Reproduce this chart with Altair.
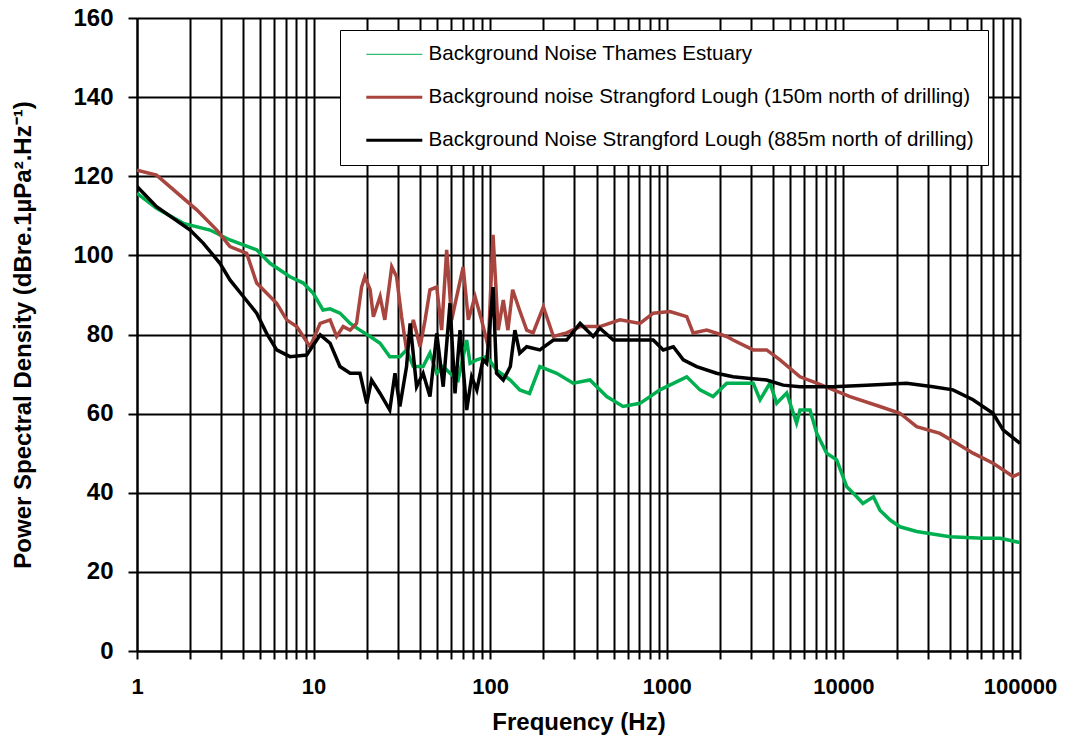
import altair as alt
import pandas as pd

# Series labels and colours
series_names = [
    "Background Noise Thames Estuary",
    "Background noise Strangford Lough (150m north of drilling)",
    "Background Noise Strangford Lough (885m north of drilling)",
]
series_colors = ["#00B050", "#A8453F", "#000000"]

# Thames Estuary spectrum (Hz, dB re 1 uPa^2/Hz)
thames_freq = [1, 1.29, 1.83, 2.59, 3.36, 4.76, 5.66, 7.35, 8.74, 9.96, 11.3, 12.4,
               14.1, 16.1, 18.3, 20.9, 23.8, 27, 30.8, 33.6, 36.7, 41.7, 45.6, 49.8,
               54.2, 59.2, 65.8, 73.6, 76.9, 84, 95.5, 108.6, 130, 147, 167, 191, 238,
               295, 367, 457, 565, 705, 915, 1297, 1541, 1828, 2183, 2710, 3085, 3373,
               3838, 4190, 4775, 5430, 5678, 6470, 7063, 8040, 9160, 10450, 11900,
               12900, 14800, 16100, 18400, 20900, 26000, 40100, 61700, 77100, 100000]
thames_psd = [115.7, 111.9, 108.1, 106.4, 103.9, 101.4, 98, 94.6, 93, 90.4, 86.2, 86.5,
              85.4, 82.8, 81.1, 79.5, 77.8, 74.4, 74.4, 76.1, 71.9, 71.9, 75.3, 70.2,
              71.9, 70.2, 68.5, 78.6, 72.7, 73.6, 74.4, 71, 68.5, 66, 65.1, 71.9, 70.2,
              67.7, 68.5, 64.3, 61.8, 62.6, 66, 69.3, 66, 64.3, 67.7, 67.7, 67.7, 63.5,
              67.7, 62.6, 65.2, 57.6, 60.9, 60.9, 55, 50, 48.3, 41.5, 39,
              37.3, 39, 35.6, 33.1, 31.4, 30.2, 28.9, 28.5, 28.5, 27.4]

# Strangford Lough, 150 m north of drilling
lough150_freq = [1, 1.29, 2.18, 2.83, 3.36, 4.18, 4.76, 6.18, 7.04, 8.02, 9.55, 10.9,
                 12.4, 13.5, 14.7, 16.1, 17.5, 18.7, 19.5, 20.9, 21.8, 23.8, 25.3, 27.7,
                 29.5, 31.5, 33.6, 36.7, 40.1, 42.8, 45.6, 49.8, 53.1, 56.7, 60.5, 64.6,
                 70.3, 75.2, 82, 89.3, 97.5, 103.8, 111, 118.6, 126, 134, 147, 161, 175,
                 200, 228, 271, 323, 418, 543, 705, 838, 1042, 1297, 1409, 1683, 2183,
                 2371, 3085, 3676, 4375, 5678, 7063, 10900, 16100, 20900, 26000, 35200,
                 43800, 54200, 70800, 91300, 100000]
lough150_psd = [121.5, 120.3, 111.5, 106.4, 102.2, 100.5, 93, 87.9, 83.7, 82, 76.9, 82.8,
                83.7, 79.5, 82, 81.1, 82.8, 92, 94.6, 91.3, 84.5, 89.6, 83.7, 97.1,
                94.6, 84.5, 76.1, 83.7, 76.9, 83.7, 91.3, 92, 81.1, 101.4, 83.7, 89.6,
                97.1, 83.7, 89.6, 83.7, 76.9, 105.2, 81.1, 88.7, 81.1, 91.3, 86, 81.1, 80.4,
                87, 79.5, 80.4, 82, 82, 83.7, 82.8, 85.4, 85.8, 84.5, 80.4, 81.1, 79.5,
                78.6, 76.1, 76.1, 73.6, 69.3, 67.7, 64.3, 61.8, 60.1, 56.7, 55,
                52.5, 50, 47.4, 44.1, 44.9]

# Strangford Lough, 885 m north of drilling
lough885_freq = [1, 1.29, 2, 2.37, 2.95, 3.36, 4, 4.76, 5.42, 6.18, 7.35, 9.14,
                 10.9, 12.4, 14.1, 16.1, 18.3, 20, 21.3, 23.8, 27, 28.9, 30.8, 33.6,
                 35.2, 38.3, 41.7, 45.6, 49.8, 54.2, 59.2, 63.2, 67.5, 73.6, 78.5, 84,
                 91, 95.5, 103.8, 108.6, 118.6, 130, 138, 147, 161, 191, 228, 271, 323,
                 383, 418, 498, 646, 838, 955, 1089, 1240, 1476, 1914, 2371, 2960, 3676,
                 4560, 5678, 8730, 13550, 22800, 32200, 41700, 54200, 70300, 80200, 100000]
lough885_psd = [117.4, 112.3, 106.4, 103.1, 98, 93.8, 89.6, 85.4, 80.3, 76.1, 74.4, 74.8,
                79.9, 77.8, 71.9, 70.2, 70.2, 62.6, 68.5, 65.1, 60.9, 70.2, 61.8, 71.9,
                82.8, 66.8, 70.2, 64.3, 80.3, 66.8, 87.9, 65.1, 81.1, 60.9, 69.3, 66,
                73.6, 72.7, 92, 70.2, 68.5, 71.9, 81.1, 75.3, 76.9, 76.1, 78.6, 78.6, 82.8,
                79.5, 81.6, 78.6, 78.6, 78.6, 76.1, 76.9, 73.6, 71.9, 70.2, 69.3, 68.9, 68.5,
                67.2, 66.8, 66.8, 67.2, 67.7, 66.8, 66, 63.5, 60.1, 55.9, 52.5]

# Axis tick positions and labels
x_ticks = [1, 2, 3, 4, 5, 6, 7, 8, 9,
           10, 20, 30, 40, 50, 60, 70, 80, 90,
           100, 200, 300, 400, 500, 600, 700, 800, 900,
           1000, 2000, 3000, 4000, 5000, 6000, 7000, 8000, 9000,
           10000, 20000, 30000, 40000, 50000, 60000, 70000, 80000, 90000,
           100000]
x_labelled = [1, 10, 100, 1000, 10000, 100000]
y_ticks = [0, 20, 40, 60, 80, 100, 120, 140, 160]

rows = []
for name, freqs, vals in zip(series_names,
                             [thames_freq, lough150_freq, lough885_freq],
                             [thames_psd, lough150_psd, lough885_psd]):
    for f, v in zip(freqs, vals):
        rows.append({"series": name, "freq": f, "psd": v})
df = pd.DataFrame(rows)

FONT = "Liberation Sans"

x_enc = alt.X(
    "freq:Q",
    scale=alt.Scale(type="log", domain=[1, 100000], nice=False),
    axis=alt.Axis(
        values=x_ticks,
        labelExpr="indexof(" + str(x_labelled) + ", datum.value) >= 0 ? format(datum.value, 'd') : ''",
        labelFlush=False, labelOverlap=False,
        grid=True, gridColor="black", gridWidth=2, gridOpacity=1,
        domainColor="black", domainWidth=2,
        tickColor="black", tickWidth=2, tickSize=8,
        labelFont=FONT, labelFontSize=22, labelFontWeight="bold", labelColor="black",
        labelPadding=17,
        title="Frequency (Hz)", titleFont=FONT, titleFontSize=24, titleFontWeight="bold",
        titleColor="black", titleY=78, titleBaseline="alphabetic",
    ),
)
y_enc = alt.Y(
    "psd:Q",
    scale=alt.Scale(domain=[0, 160], nice=False),
    axis=alt.Axis(
        values=y_ticks, labelFlush=False,
        grid=True, gridColor="black", gridWidth=2, gridOpacity=1,
        domainColor="black", domainWidth=2,
        tickColor="black", tickWidth=2, tickSize=9,
        labelFont=FONT, labelFontSize=24, labelFontWeight="bold", labelColor="black",
        labelPadding=15,
        title="Power Spectral Density (dBre.1µPa².Hz⁻¹)",
        titleFont=FONT, titleFontSize=24, titleFontWeight="bold", titleColor="black",
        titleX=-114, titleBaseline="middle",
    ),
)

color_scale = alt.Scale(domain=series_names, range=series_colors)

# thin symbol for the Thames entry, heavier ones for the Strangford Lough entries
legend_stroke = alt.ExprRef("datum.value === '" + series_names[0] + "' ? 1 : 3")

chart = alt.Chart(df).mark_line(strokeWidth=3.5, clip=True).encode(
    x=x_enc,
    y=y_enc,
    color=alt.Color(
        "series:N", scale=color_scale, sort=series_names,
        legend=alt.Legend(
            title=None, orient="none", legendX=203, legendY=12,
            fillColor="white", strokeColor="black", padding=14,
            symbolType="stroke", symbolSize=3136, symbolOffset=30,
            symbolStrokeWidth=legend_stroke,
            labelFont=FONT, labelFontSize=20.6, labelColor="black", labelOffset=24,
            labelLimit=0, rowPadding=22,
        ),
    ),
    order=alt.Order("freq:Q"),
).properties(
    width=883, height=633,
    autosize=alt.AutoSizeParams(type="none"),
    padding={"left": 137, "top": 18, "right": 52, "bottom": 86},
).configure_view(stroke=None).configure(background="white")

chart.save("out.html", embed_options={"renderer": "svg", "actions": False})
